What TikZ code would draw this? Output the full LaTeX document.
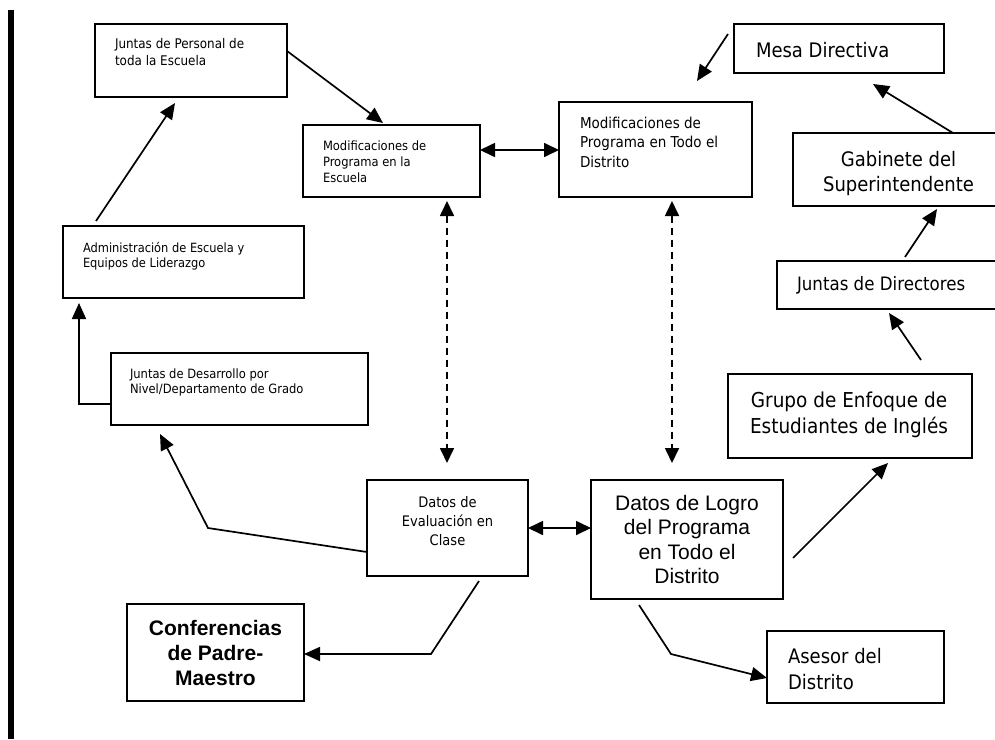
\documentclass[tikz,border=0pt]{standalone}
\usepackage{fontspec}
\newfontfamily\tah[FakeStretch=0.9]{DejaVu Sans}
\newfontfamily\ari{Liberation Sans}
\usetikzlibrary{arrows.meta}
\newcommand\TL[3]{{\fontsize{#1}{#2}\selectfont\begin{tabular}[t]{@{}l@{}}#3\end{tabular}}}
\newcommand\TC[3]{{\fontsize{#1}{#2}\selectfont\begin{tabular}[t]{@{}c@{}}#3\end{tabular}}}
\tikzset{
  box/.style={draw, line width=1.8pt, inner sep=0pt, outer sep=0pt, rectangle},
  txt/.style={inner sep=0pt, outer sep=0pt},
  arr/.style={line width=1.7pt, -{Triangle[length=16pt,width=14pt]}},
  darr/.style={line width=1.7pt, {Triangle[length=15pt,width=14pt]}-{Triangle[length=15pt,width=14pt]}},
  dsh/.style={dash pattern=on 7pt off 5pt}
}
\begin{document}
\begin{tikzpicture}[x=1pt,y=-1pt]
\useasboundingbox (0,0) rectangle (995,739);
\fill[black] (8,10) rectangle (14,739);

% boxes
\node[box, minimum width=192, minimum height=73] (jp) at (191,60.5) {};
\node[box, minimum width=177, minimum height=72] (me) at (391.5,161) {};
\node[box, minimum width=193, minimum height=95] (md) at (655.5,149.5) {};
\node[box, minimum width=210, minimum height=49] (mesa) at (839,48.5) {};
\node[box, minimum width=207, minimum height=73] (gab) at (896.5,169.5) {};
\node[box, minimum width=223, minimum height=48] (jdir) at (888.5,285) {};
\node[box, minimum width=244, minimum height=84] (grupo) at (850,416) {};
\node[box, minimum width=192, minimum height=119] (logro) at (687,539.5) {};
\node[box, minimum width=177, minimum height=72] (ases) at (855.5,667) {};
\node[box, minimum width=161, minimum height=96] (eval) at (447.5,528) {};
\node[box, minimum width=177, minimum height=97] (conf) at (215.5,652.5) {};
\node[box, minimum width=241, minimum height=72] (adm) at (183.5,262) {};
\node[box, minimum width=257, minimum height=72] (jdes) at (239.5,389) {};

% texts
\node[txt, anchor=base west, font=\tah] (jpt) at (115,48) {\TL{13.3}{17}{Juntas de Personal de\\toda la Escuela}};
\node[txt, anchor=base west, font=\tah] (met) at (323,150) {\TL{12.8}{16}{Modificaciones de\\Programa en la\\Escuela}};
\node[txt, anchor=base west, font=\tah] (mdt) at (580,128) {\TL{15}{19.5}{Modificaciones de\\Programa en Todo el\\Distrito}};
\node[txt, anchor=base west, font=\tah] (admt) at (83,252) {\TL{12.7}{15}{Administración de Escuela y\\Equipos de Liderazgo}};
\node[txt, anchor=base west, font=\tah] (jdest) at (130,378) {\TL{12.8}{15}{Juntas de Desarrollo por\\Nivel/Departamento de Grado}};
\node[txt, anchor=base, font=\tah] (evalt) at (447.5,507) {\TC{14.5}{19}{Datos de\\Evaluación en\\Clase}};
\node[txt, anchor=base west, font=\tah] (mesat) at (756,57) {\TL{20}{25}{Mesa Directiva}};
\node[txt, anchor=base, font=\tah] (gabt) at (898.5,166) {\TC{20}{25}{Gabinete del\\Superintendente}};
\node[txt, anchor=base west, font=\tah] (jdirt) at (797,290) {\TL{18.5}{23}{Juntas de Directores}};
\node[txt, anchor=base, font=\tah] (grupot) at (849,407) {\TC{20.5}{26}{Grupo de Enfoque de\\Estudiantes de Inglés}};
\node[txt, anchor=base, font=\ari] (logrot) at (687,510) {\TC{21}{24.5}{Datos de Logro\\del Programa\\en Todo el\\Distrito}};
\node[txt, anchor=base west, font=\tah] (asest) at (788,663) {\TL{20}{26}{Asesor del\\Distrito}};
\node[txt, anchor=base, font=\ari\bfseries] (conft) at (215.5,635) {\TC{21}{25}{Conferencias\\de Padre-\\Maestro}};

% connectors
\draw[arr] ([shift={(33,-5)}]adm.north west) -- ([shift={(80,6)}]jp.south west);
\draw[arr] ([shift={(0,27)}]jp.north east) -- ([shift={(80,-2)}]me.north west);
\draw[darr] ([shift={(0,25)}]me.north east) -- ([shift={(0,48)}]md.north west);
\draw[arr] ([shift={(-6,10)}]mesa.north west) -- ([shift={(138,-21)}]md.north west);
\draw[arr] ([shift={(160,0)}]gab.north west) -- ([shift={(139,11)}]mesa.south west);
\draw[arr] ([shift={(128,-4)}]jdir.north west) -- ([shift={(144,3)}]gab.south west);
\draw[arr] ([shift={(193,-14)}]grupo.north west) -- ([shift={(112,4)}]jdir.south west);
\draw[arr] ([shift={(10,78)}]logro.north east) -- ([shift={(160,5)}]grupo.south west);
\coordinate (b1) at ([shift={(80,55)}]logro.south west);
\draw[arr] ([shift={(48,6)}]logro.south west) -- (b1) -- ([shift={(0,47)}]ases.north west);
\draw[darr] ([shift={(0,48)}]eval.north east) -- ([shift={(0,48)}]logro.north west);
\draw[darr, dsh] ([shift={(144,4)}]me.south west) -- ([shift={(80,-17)}]eval.north west);
\draw[darr, dsh] ([shift={(113,4)}]md.south west) -- ([shift={(81,-17)}]logro.north west);
\coordinate (b2) at ([shift={(64,5)}]eval.south west);
\draw[arr] ([shift={(112,5)}]eval.south west) -- ([shift={(0,73)}]b2) -- ([shift={(0,50)}]conf.north east);
\coordinate (b3) at ([shift={(-159,48)}]eval.north west);
\draw[arr] ([shift={(0,72)}]eval.north west) -- (b3) -- ([shift={(49,9)}]jdes.south west);
\draw[arr] ([shift={(0,51)}]jdes.north west) -| ([shift={(16,5)}]adm.south west);
\end{tikzpicture}
\end{document}
